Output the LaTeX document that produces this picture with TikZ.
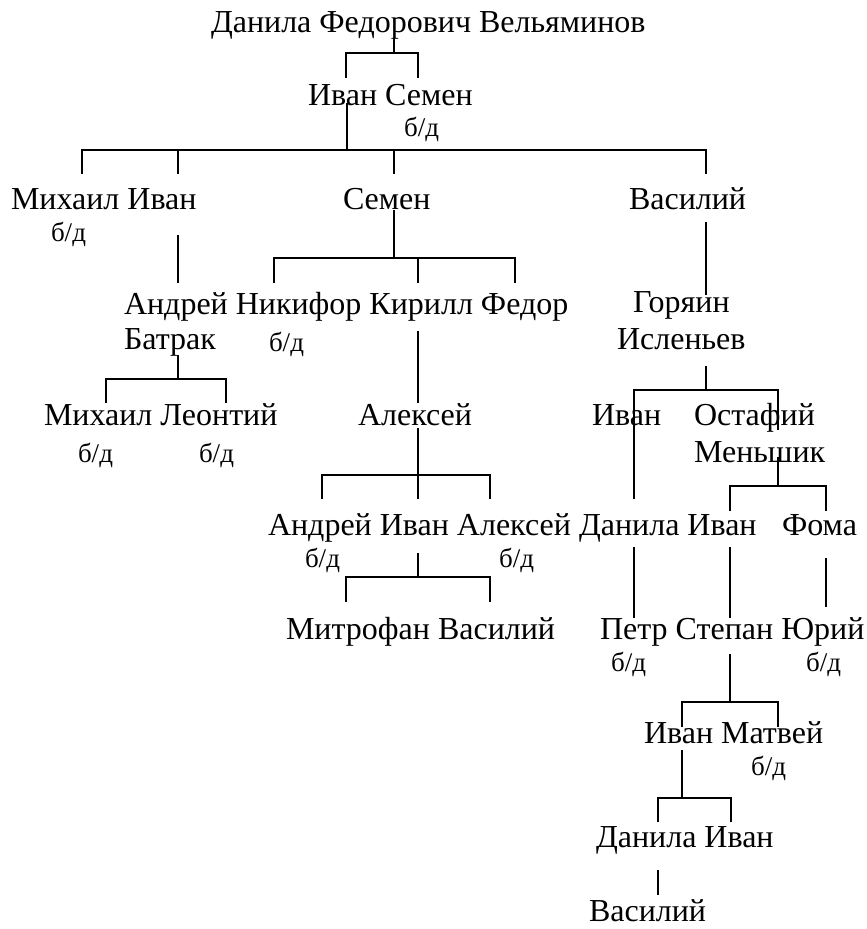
\documentclass[tikz,border=0pt]{standalone}
\usepackage{fontspec}
\setmainfont{Liberation Serif}
\usepackage{tikz}

\begin{document}
\begin{tikzpicture}[x=0.5pt,y=-0.5pt,line width=1pt,
  every node/.style={anchor=base west, inner sep=0pt, font=\fontsize{16}{19}\selectfont},
  bd/.style={font=\fontsize{13.5}{16}\selectfont}]

\useasboundingbox (0,0) rectangle (866,929);

% names
\node (root) at (210,33) {Данила Федорович Вельяминов};
\node (ivsem) at (307,106) {Иван Семен};
\node [bd] (ivsembd) at (403,137) {б/д};
\node (mihiv) at (10,210) {Михаил Иван};
\node [bd] (mihivbd) at (50,242) {б/д};
\node (semen) at (342,210) {Семен};
\node (vasil) at (628,210) {Василий};
\node (andnik) at (123,315) {Андрей Никифор Кирилл Федор};
\node (batrak) at (123,350) {Батрак};
\node [bd] (nikbd) at (268,352) {б/д};
\node (goryain) at (632,313) {Горяин};
\node (islenev) at (616,350) {Исленьев};
\node (mihleon) at (43,425) {Михаил Леонтий};
\node [bd] (mihbd) at (77,462) {б/д};
\node [bd] (leonbd) at (198,462) {б/д};
\node (aleks) at (357,425) {Алексей};
\node (ivan) at (591,425) {Иван};
\node (ostaf) at (693,425) {Остафий};
\node (mensh) at (693,462) {Меньшик};
\node (andiv) at (267,535) {Андрей Иван Алексей};
\node (daniv) at (578,535) {Данила Иван};
\node (foma) at (781,535) {Фома};
\node [bd] (andbd) at (304,567) {б/д};
\node [bd] (aleksbd) at (498,567) {б/д};
\node (mitrof) at (285,639) {Митрофан Василий};
\node (petrst) at (599,639) {Петр Степан Юрий};
\node [bd] (petrbd) at (610,671) {б/д};
\node [bd] (yurbd) at (805,671) {б/д};
\node (ivmat) at (643,743) {Иван Матвей};
\node [bd] (matbd) at (750,775) {б/д};
\node (danila) at (595,847) {Данила Иван};
\node (vasilb) at (588,921) {Василий};

% line ends
\coordinate (st1) at (394,38);  \coordinate (j1) at (394,53);
\coordinate (l1) at (346,78);   \coordinate (r1) at (418,78);

\coordinate (st2) at (347,103); \coordinate (j2) at (347,150);
\coordinate (l2) at (82,174);   \coordinate (r2) at (706,174);
\coordinate (m2a) at (178,174); \coordinate (m2b) at (394,174);

\coordinate (st3) at (394,210); \coordinate (j3) at (394,258);
\coordinate (l3) at (274,283);  \coordinate (r3) at (515,283);
\coordinate (m3) at (418,283);

\coordinate (st4) at (178,235); \coordinate (e4) at (178,283);
\coordinate (st5) at (706,222); \coordinate (e5) at (706,295);

\coordinate (st6) at (178,355); \coordinate (j6) at (178,379);
\coordinate (l6) at (106,403);  \coordinate (r6) at (226,403);

\coordinate (st7) at (418,331); \coordinate (e7) at (418,403);

\coordinate (st8) at (418,428); \coordinate (j8) at (418,475);
\coordinate (l8) at (322,499);  \coordinate (r8) at (490,499);
\coordinate (m8) at (418,499);

\coordinate (st9) at (418,553); \coordinate (j9) at (418,577);
\coordinate (l9) at (346,602);  \coordinate (r9) at (490,602);

\coordinate (st10) at (706,366); \coordinate (j10) at (706,390);
\coordinate (l10) at (634,499);  \coordinate (r10) at (778,430);

\coordinate (st11) at (778,457); \coordinate (j11) at (778,486);
\coordinate (l11) at (730,511);  \coordinate (r11) at (826,511);

\coordinate (st12) at (634,547); \coordinate (e12) at (634,618);
\coordinate (st13) at (730,547); \coordinate (e13) at (730,618);
\coordinate (st14) at (826,558); \coordinate (e14) at (826,607);

\coordinate (st15) at (730,654); \coordinate (j15) at (730,702);
\coordinate (l15) at (682,727);  \coordinate (r15) at (778,727);

\coordinate (st16) at (682,750); \coordinate (j16) at (682,798);
\coordinate (l16) at (658,822);  \coordinate (r16) at (731,822);

\coordinate (st17) at (658,870); \coordinate (e17) at (658,895);

% lines
\draw (st1) -- (j1);  \draw (l1) |- (j1) -| (r1);
\draw (st2) -- (j2);  \draw (l2) |- (j2) -| (r2);
\draw (m2a) -- (m2a |- j2);  \draw (m2b) -- (m2b |- j2);
\draw (st3) -- (j3);  \draw (l3) |- (j3) -| (r3);
\draw (m3) -- (m3 |- j3);
\draw (st4) -- (e4);
\draw (st5) -- (e5);
\draw (st6) -- (j6);  \draw (l6) |- (j6) -| (r6);
\draw (st7) -- (e7);
\draw (st8) -- (m8);  \draw (l8) |- (j8) -| (r8);
\draw (st9) -- (j9);  \draw (l9) |- (j9) -| (r9);
\draw (st10) -- (j10);  \draw (l10) |- (j10) -| (r10);
\draw (st11) -- (j11);  \draw (l11) |- (j11) -| (r11);
\draw (st12) -- (e12);
\draw (st13) -- (e13);
\draw (st14) -- (e14);
\draw (st15) -- (j15);  \draw (l15) |- (j15) -| (r15);
\draw (st16) -- (j16);  \draw (l16) |- (j16) -| (r16);
\draw (st17) -- (e17);

\end{tikzpicture}
\end{document}
